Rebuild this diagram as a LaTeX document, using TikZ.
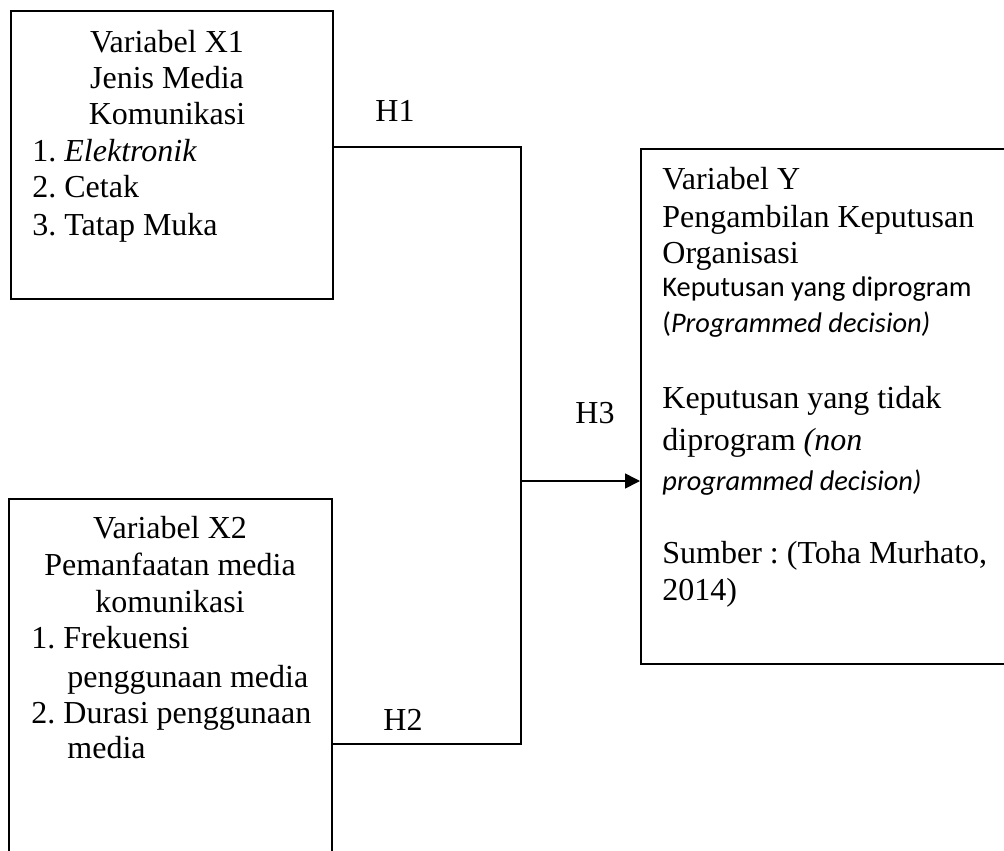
\documentclass[tikz,border=0pt]{standalone}
\usepackage{fontspec}
\setmainfont{Liberation Serif}[ItalicFont={Liberation Serif Italic}]
\newfontfamily\calfont{Carlito}
\usetikzlibrary{arrows.meta,fit}
\frenchspacing
\begin{document}
\begin{tikzpicture}[x=0.5pt,y=-0.5pt,
  tnr/.style={inner sep=0pt, font=\fontsize{16pt}{18pt}\selectfont},
  cal/.style={inner sep=0pt, font=\calfont\fontsize{14.2pt}{16pt}\selectfont},
  boxr/.style={draw, line width=1pt, inner sep=0pt, rectangle},
  conn/.style={line width=0.8pt},
  lab/.style={tnr, anchor=base west}]
\clip (0,0) rectangle (1004,850);
% boxes
\node[boxr, fit={(11,11)(333,299)}] (x1) {};
\node[boxr, fit={(9,499)(332,880)}] (x2) {};
\node[boxr, fit={(641,149)(1030,664)}] (y) {};
% box X1 text
\node[tnr, anchor=base] (x1a) at (167,53) {Variabel X1};
\node[tnr, anchor=base] (x1b) at (167,89) {Jenis Media};
\node[tnr, anchor=base] (x1c) at (167,125) {Komunikasi};
\node[lab] (x1d) at (32,162) {1. \textit{Elektronik}};
\node[lab] (x1e) at (32,198) {2. Cetak};
\node[lab] (x1f) at (32,235) {3. Tatap Muka};
% box X2 text
\node[tnr, anchor=base] (x2a) at (170,538) {Variabel X2};
\node[tnr, anchor=base] (x2b) at (170,575) {Pemanfaatan media};
\node[tnr, anchor=base] (x2c) at (170,612) {komunikasi};
\node[lab] (x2d) at (31,648) {1. Frekuensi};
\node[lab] (x2e) at (67,687) {penggunaan media};
\node[lab] (x2f) at (31,723) {2. Durasi penggunaan};
\node[lab] (x2g) at (67,758) {media};
% box Y text
\node[lab] (ya) at (662,190) {Variabel Y};
\node[lab] (yb) at (662,227) {Pengambilan Keputusan};
\node[lab] (yc) at (662,263) {Organisasi};
\node[cal, anchor=base west] (yd) at (662,296) {Keputusan yang diprogram};
\node[cal, anchor=base west] (ye) at (662,332) {(\textit{Programmed decision)}};
\node[lab] (yf) at (662,408) {Keputusan yang tidak};
\node[lab] (yg) at (662,450) {diprogram \textit{(non}};
\node[cal, anchor=base west] (yh) at (662,490) {\textit{programmed decision)}};
\node[lab] (yi) at (662,563) {Sumber : (Toha Murhato,};
\node[lab] (yj) at (662,600) {2014)};
% connectors
\coordinate (j1) at (521,147);
\coordinate (j2) at (521,744);
\coordinate (jm) at (521,481);
\draw[conn] (x1.east |- j1) -- (j1) -- (j2) -- (x2.east |- j2);
\draw[conn, -{Triangle[length=7.5pt,width=7.5pt]}] (jm) -- (y.west |- jm);
% labels
\node[lab] (h1) at (375,122) {H1};
\node[lab] (h2) at (383,730) {H2};
\node[lab] (h3) at (575,423) {H3};
\end{tikzpicture}
\end{document}
